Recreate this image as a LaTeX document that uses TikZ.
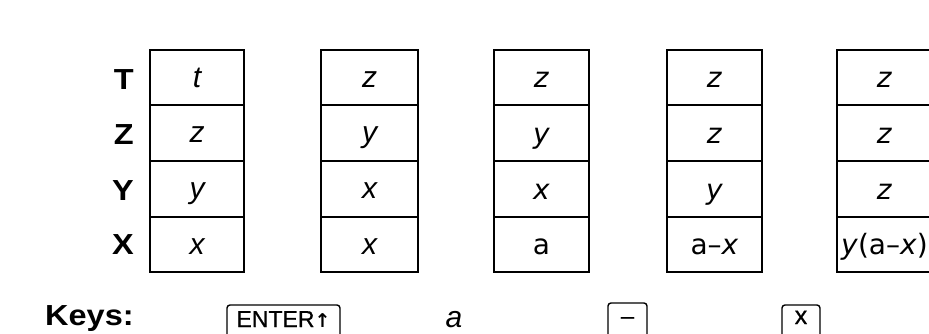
\documentclass[tikz,border=0pt]{standalone}
\usepackage{fontspec}
\setmainfont{Liberation Sans}
\newfontfamily\dv{DejaVu Sans}
\newfontfamily\wideb{Liberation Sans}[FakeStretch=1.12]
\newfontfamily\keyf{Liberation Sans}[FakeBold=0.6]
\begin{document}
\begin{tikzpicture}[x=1pt,y=-1pt,
  cell/.style={draw, line width=2pt, minimum width=#1, minimum height=55.5pt, inner sep=0pt,
     text height=19pt, text depth=0pt, font=\fontsize{30}{32}\selectfont\itshape},
  cellb/.style={draw, line width=2pt, minimum width=#1, minimum height=55.5pt, inner sep=0pt,
     text height=20.5pt, text depth=0pt, font=\fontsize{28}{30}\dv},
  reg/.style={font=\fontsize{29}{30}\wideb\bfseries, anchor=base east, inner sep=0pt},
  key/.style={draw, line width=1.4pt, rounded corners=3pt, minimum height=40pt, inner sep=0pt}
]
\useasboundingbox (0,0) rectangle (929,333);
\clip (0,0) rectangle (929,333);
\fill[white] (0,0) rectangle (929,333);

% register labels
\node[reg] (lT) at (134, 89) {T};
\node[reg] (lZ) at (134, 144) {Z};
\node[reg] (lY) at (134, 200) {Y};
\node[reg] (lX) at (134, 254) {X};

% column 1
\node[cell=94pt] (a1) at (197, 77.5) {t};
\node[cell=94pt] (a2) at (197, 133) {z};
\node[cell=94pt] (a3) at (197, 189) {y};
\node[cell=94pt] (a4) at (197, 244.5) {x};
% column 2
\node[cell=97pt] (b1) at (369.5, 77.5) {z};
\node[cell=97pt] (b2) at (369.5, 133) {y};
\node[cell=97pt] (b3) at (369.5, 189) {x};
\node[cell=97pt] (b4) at (369.5, 244.5) {x};
% column 3
\node[cellb=95pt] (c1) at (541.5, 77.5) {\textit{z}};
\node[cellb=95pt] (c2) at (541.5, 133) {\textit{y}};
\node[cellb=95pt] (c3) at (541.5, 189) {\textit{x}};
\node[cellb=95pt] (c4) at (541.5, 244.5) {a};
% column 4
\node[cellb=95pt] (d1) at (714.5, 77.5) {\textit{z}};
\node[cellb=95pt] (d2) at (714.5, 133) {\textit{z}};
\node[cellb=95pt] (d3) at (714.5, 189) {\textit{y}};
\node[cellb=95pt] (d4) at (714.5, 244.5) {a–\textit{x}};
% column 5
\node[cellb=95pt] (e1) at (884.5, 77.5) {\textit{z}};
\node[cellb=95pt] (e2) at (884.5, 133) {\textit{z}};
\node[cellb=95pt] (e3) at (884.5, 189) {\textit{z}};
\node[cellb=95pt] (e4) at (884.5, 244.5) {\textit{y}(a–\textit{x})};

% keys row
\node[font=\fontsize{29}{30}\wideb\bfseries, anchor=base west, inner sep=0pt] (keys) at (45, 325) {Keys:};
\node[key, minimum width=113pt, text height=15.5pt, text depth=11.5pt,
      font=\fontsize{23}{24}\keyf] (kenter) at (283.5, 325) {ENTER{\dv\bfseries\fontsize{19}{20}\selectfont ↑}};
\node[font=\fontsize{30}{32}\selectfont\itshape, anchor=base, inner sep=0pt] (ka) at (454, 327) {a};
\node[key, minimum width=39pt, text height=11pt, text depth=9pt,
      font=\fontsize{24}{24}\keyf] (kminus) at (627.5, 323) {–};
\node[key, minimum width=38pt, text height=12pt, text depth=14pt,
      font=\fontsize{25}{24}\keyf] (ktimes) at (801, 325) {x};
\end{tikzpicture}
\end{document}
